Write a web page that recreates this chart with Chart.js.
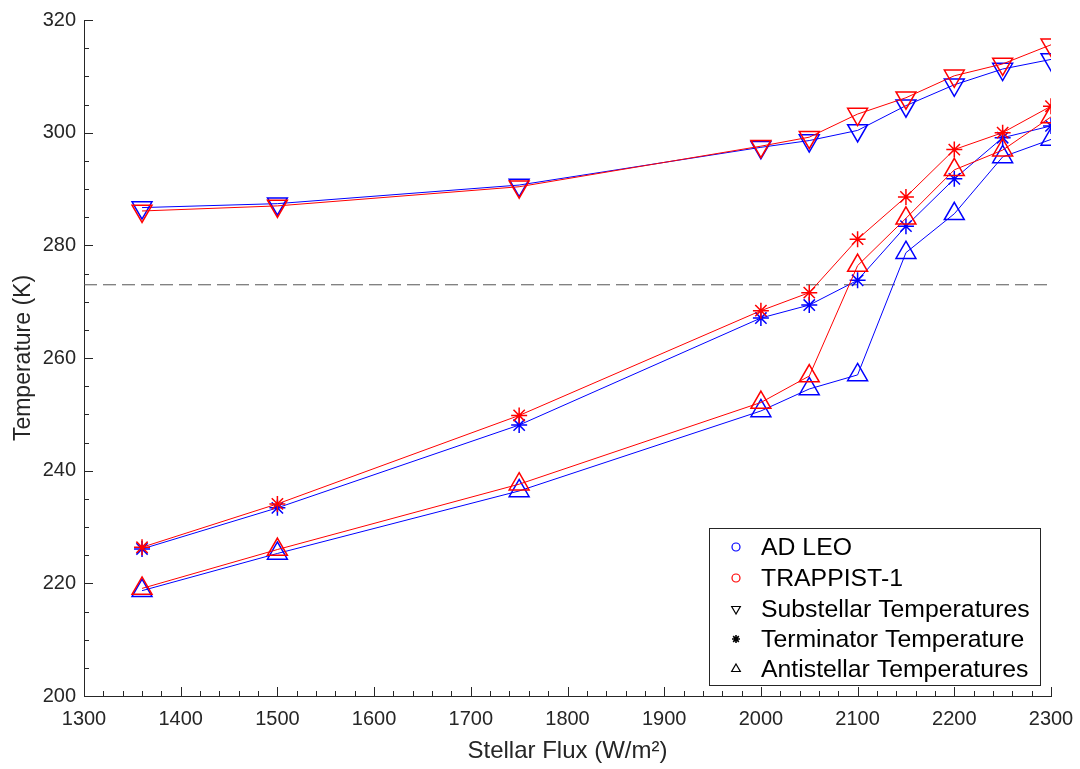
<!DOCTYPE html>
<html>
<head>
<meta charset="utf-8">
<script src="https://cdn.jsdelivr.net/npm/chart.js@4.4.0/dist/chart.umd.min.js"></script>
<style>
  html, body { margin: 0; padding: 0; background: #fff; }
  #wrap { width: 1080px; height: 769px; }
</style>
</head>
<body>
<div id="wrap"><canvas id="chart" width="1080" height="769"></canvas></div>
<script>
// values
const flux = [1360, 1500, 1750, 2000, 2050, 2100, 2150, 2200, 2250, 2300];

const adLeoSub  = [286.7, 287.4, 290.7, 297.4, 298.6, 300.4, 304.8, 308.5, 311.3, 313.0];
const adLeoTerm = [226.1, 233.4, 248.1, 267.1, 269.4, 273.8, 283.4, 291.8, 299.1, 301.2];
const adLeoAnti = [218.7, 225.3, 236.4, 250.6, 254.5, 257.0, 278.7, 285.6, 295.7, 298.8];

const trapSub  = [286.1, 287.0, 290.4, 297.6, 299.2, 303.3, 306.2, 310.1, 312.2, 315.6];
const trapTerm = [226.4, 234.1, 249.8, 268.4, 271.6, 281.1, 288.6, 297.0, 300.0, 304.7];
const trapAnti = [219.1, 226.0, 237.6, 252.1, 256.8, 276.4, 284.8, 293.4, 296.9, 302.8];

const freezeX = [1300, 2300];
const freezeY = [273, 273];

const legendLabels = ['AD LEO', 'TRAPPIST-1', 'Substellar Temperatures', 'Terminator Temperature', 'Antistellar Temperatures'];

const BLUE = '#0000ff';
const RED = '#ff0000';
const AXIS = '#262626';
const FONT = '"Liberation Sans", Arial, Helvetica, sans-serif';

function pts(xs, ys) {
  return xs.map((x, i) => ({ x: x, y: ys[i] }));
}

function series(label, ys, color, style) {
  let ds = {
    label: label,
    data: pts(flux, ys),
    borderColor: color,
    backgroundColor: 'rgba(0,0,0,0)',
    borderWidth: 1,
    pointBorderColor: color,
    pointBackgroundColor: 'rgba(0,0,0,0)',
    pointBorderWidth: 1.5,
    tension: 0,
    fill: false
  };
  if (style === 'down') {
    ds.pointStyle = 'triangle'; ds.pointRotation = 180; ds.pointRadius = 11.5;
  } else if (style === 'up') {
    ds.pointStyle = 'triangle'; ds.pointRotation = 0; ds.pointRadius = 11.5;
  } else {
    ds.pointStyle = 'star'; ds.pointRadius = 8;
  }
  ds.pointHoverRadius = ds.pointRadius;
  return ds;
}

// ticks point inwards like the original, majors + minors
const inwardTicks = {
  id: 'inwardTicks',
  afterDraw(chart) {
    const { ctx, chartArea: a, scales: { x, y } } = chart;
    ctx.save();
    ctx.strokeStyle = AXIS;
    ctx.lineWidth = 1;
    ctx.beginPath();
    for (let v = 1300; v <= 2300; v += 20) {
      const px = Math.round(x.getPixelForValue(v)) + 0.5;
      const len = v % 100 === 0 ? 9 : 5;
      ctx.moveTo(px, a.bottom);
      ctx.lineTo(px, a.bottom - len);
    }
    for (let v = 200; v <= 320; v += 5) {
      const py = Math.round(y.getPixelForValue(v)) + 0.5;
      const len = v % 20 === 0 ? 9 : 5;
      ctx.moveTo(a.left, py);
      ctx.lineTo(a.left + len, py);
    }
    ctx.stroke();
    ctx.restore();
  }
};

// boxed legend in the lower right corner
const boxLegend = {
  id: 'boxLegend',
  afterDraw(chart) {
    const ctx = chart.ctx;
    const bx = 709.5, by = 528.5, bw = 331, bh = 157;
    ctx.save();
    ctx.fillStyle = '#fff';
    ctx.fillRect(bx, by, bw, bh);
    ctx.strokeStyle = AXIS;
    ctx.lineWidth = 1;
    ctx.strokeRect(bx, by, bw, bh);

    const rows = [547, 578, 609, 639, 669];
    const mx = 736;
    const markers = [
      { pointStyle: 'circle', radius: 4, rotation: 0, color: BLUE },
      { pointStyle: 'circle', radius: 4, rotation: 0, color: RED },
      { pointStyle: 'triangle', radius: 5, rotation: 180, color: '#000' },
      { pointStyle: 'star', radius: 4, rotation: 0, color: '#000' },
      { pointStyle: 'triangle', radius: 5, rotation: 0, color: '#000' }
    ];
    markers.forEach((m, i) => {
      ctx.strokeStyle = m.color;
      ctx.fillStyle = 'rgba(0,0,0,0)';
      ctx.lineWidth = m.pointStyle === 'star' ? 1.6 : 1.2;
      Chart.helpers.drawPoint(ctx, { pointStyle: m.pointStyle, radius: m.radius, rotation: m.rotation, borderWidth: ctx.lineWidth }, mx, rows[i]);
    });

    ctx.fillStyle = '#000';
    ctx.font = '24.8px ' + FONT;
    ctx.textBaseline = 'middle';
    ctx.textAlign = 'left';
    legendLabels.forEach((t, i) => ctx.fillText(t, 761, rows[i] + 1));
    ctx.restore();
  }
};

new Chart(document.getElementById('chart').getContext('2d'), {
  type: 'line',
  data: {
    datasets: [
      series('TRAPPIST-1 substellar', trapSub, RED, 'down'),
      series('TRAPPIST-1 terminator', trapTerm, RED, 'star'),
      series('TRAPPIST-1 antistellar', trapAnti, RED, 'up'),
      series('AD LEO substellar', adLeoSub, BLUE, 'down'),
      series('AD LEO terminator', adLeoTerm, BLUE, 'star'),
      series('AD LEO antistellar', adLeoAnti, BLUE, 'up'),
      {
        label: '273 K',
        data: pts(freezeX, freezeY),
        borderColor: '#555555',
        borderWidth: 1,
        borderDash: [13, 6],
        pointRadius: 0,
        fill: false
      }
    ]
  },
  options: {
    responsive: false,
    animation: false,
    events: [],
    layout: { padding: { top: 20, right: 29, left: 0, bottom: 0 } },
    plugins: {
      legend: { display: false },
      tooltip: { enabled: false }
    },
    scales: {
      x: {
        type: 'linear',
        min: 1300,
        max: 2300,
        afterFit(scale) {
          scale.height = 73;
          scale.paddingLeft = 0;
          scale.paddingRight = 0;
        },
        grid: { display: false, drawTicks: false },
        border: { display: true, color: AXIS, width: 1 },
        ticks: {
          stepSize: 100,
          padding: 11,
          color: AXIS,
          font: { family: FONT, size: 20 },
          maxRotation: 0,
          callback: (v) => String(v)
        },
        title: {
          display: true,
          text: 'Stellar Flux (W/m²)',
          color: AXIS,
          font: { family: FONT, size: 24 },
          padding: { top: 0, bottom: 3 }
        }
      },
      y: {
        type: 'linear',
        min: 200,
        max: 320,
        afterFit(scale) {
          scale.width = 84;
          scale.paddingTop = 0;
          scale.paddingBottom = 0;
        },
        grid: { display: false, drawTicks: false },
        border: { display: true, color: AXIS, width: 1 },
        ticks: {
          stepSize: 20,
          padding: 8,
          color: AXIS,
          font: { family: FONT, size: 20 },
          callback: (v) => String(v)
        },
        title: {
          display: true,
          text: 'Temperature (K)',
          color: AXIS,
          font: { family: FONT, size: 23 },
          padding: { top: 10, bottom: 0 }
        }
      }
    }
  },
  plugins: [inwardTicks, boxLegend]
});
</script>
</body>
</html>
